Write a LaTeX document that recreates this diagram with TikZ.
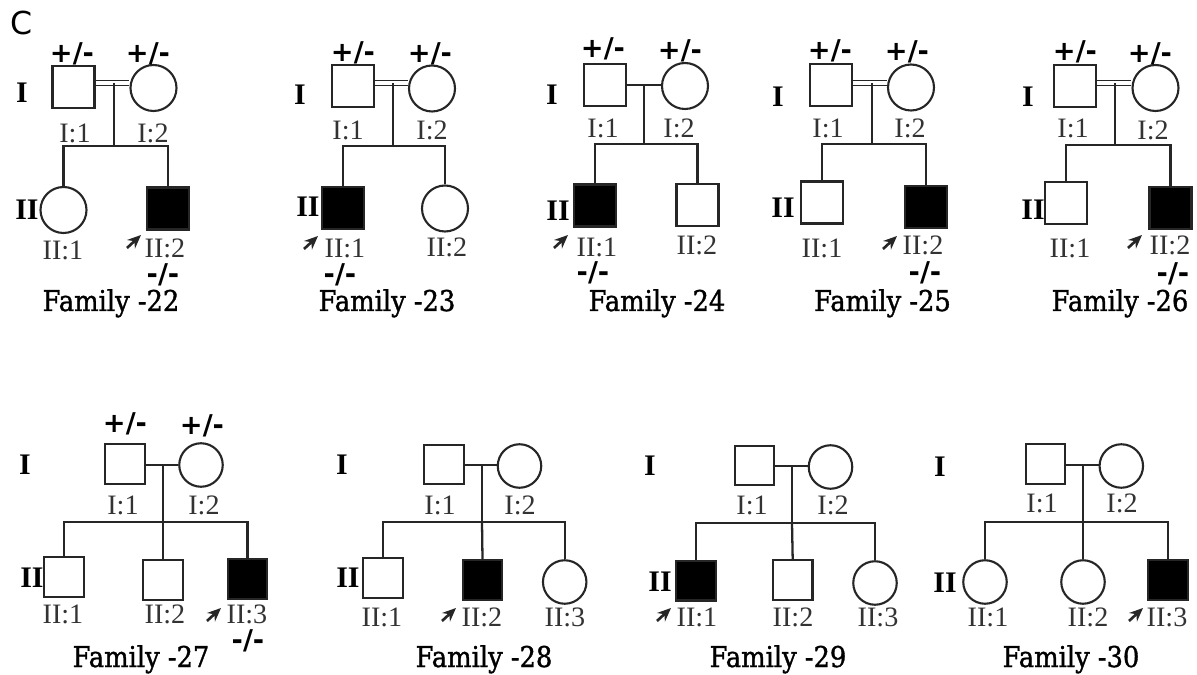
\documentclass[tikz,border=0pt]{standalone}
\usepackage{fontspec}
\setmainfont{Liberation Serif}
\newfontfamily\sansb{DejaVu Sans}
\newfontfamily\famfont{DejaVu Serif}[FakeStretch=0.9,FakeBold=1.2]
\usetikzlibrary{arrows.meta}
\begin{document}
\begin{tikzpicture}[x=0.02cm,y=-0.02cm,
 ln/.style={line width=1.2pt, draw=black!85},
 sqT/.style={ln, rectangle, minimum size=0.84cm, inner sep=0pt, fill=white},
 ciT/.style={ln, circle, minimum size=0.92cm, inner sep=0pt, fill=white},
 sqB/.style={ln, rectangle, minimum size=0.79cm, inner sep=0pt, fill=white},
 ciB/.style={ln, circle, minimum size=0.87cm, inner sep=0pt, fill=white},
 aff/.style={fill=black},
 conn/.style={line width=1.3pt, draw=black!85},
 cons/.style={line width=0.9pt, draw=black!85, double, double distance=0.07cm},
 lbl/.style={font=\fontsize{16}{16}\selectfont, text=black!80, inner sep=0pt},
 gen/.style={font=\fontsize{17}{17}\selectfont\bfseries, inner sep=0pt},
 geno/.style={font=\sansb\fontsize{15.5}{15.5}\selectfont\bfseries, inner sep=0pt},
 fam/.style={font=\famfont\fontsize{16.3}{16.3}\selectfont, anchor=base, inner sep=0pt},
 prob/.style={line width=1.5pt, draw=black!85, -{Stealth[length=0.27cm,width=0.23cm]}},
 panel/.style={font=\sansb\fontsize{18}{18}\selectfont, inner sep=0pt},
]
\useasboundingbox (0,0) rectangle (1197,675);
\node[panel] (C) at (22,23) {C};

% ---------------- Family 22
\node[sqT] (a22) at (73.5,87) {};
\node[ciT] (b22) at (153.5,88) {};
\coordinate (m22) at (114,83);
\coordinate (s22) at (114,146);
\node[ciT] (c22a) at (63.5,210) {};
\node[sqT,aff] (c22b) at (168,208.5) {};
\draw[cons] (a22.east |- m22) -- (b22.west |- m22);
\draw[conn] (m22) -- (s22);
\draw[conn] (c22a.north) |- (s22) -| (c22b.north);
\node[gen] (g22a) at (22,93) {I};
\node[gen] (g22b) at (27,210) {II};
\node[lbl] (l22a) at (75,133) {I:1};
\node[lbl] (l22b) at (153,133) {I:2};
\node[lbl] (l22c) at (63,250) {II:1};
\node[lbl] (l22d) at (165,248) {II:2};
\draw[prob] (127,248) -- ++(14,-13);
\node[geno] (t22a) at (72,54) {+/-};
\node[geno] (t22b) at (148,54) {+/-};
\node[geno] (t22c) at (163,275) {-/-};
\node[fam] (f22) at (111,311) {Family -22};

% ---------------- Family 23
\node[sqT] (a23) at (353,86) {};
\node[ciT] (b23) at (432,88.5) {};
\coordinate (m23) at (393,83);
\coordinate (s23) at (393,146);
\node[sqT,aff] (c23a) at (343,208) {};
\node[ciT] (c23b) at (445,208.5) {};
\draw[cons] (a23.east |- m23) -- (b23.west |- m23);
\draw[conn] (m23) -- (s23);
\draw[conn] (c23a.north) |- (s23) -| (c23b.north);
\node[gen] (g23a) at (300,95) {I};
\node[gen] (g23b) at (308,207) {II};
\node[lbl] (l23a) at (348,130) {I:1};
\node[lbl] (l23b) at (432,130) {I:2};
\node[lbl] (l23c) at (345,248) {II:1};
\node[lbl] (l23d) at (447,247) {II:2};
\draw[prob] (304,249) -- ++(14,-13);
\node[geno] (t23a) at (353,53) {+/-};
\node[geno] (t23b) at (430,54) {+/-};
\node[geno] (t23c) at (340,275) {-/-};
\node[fam] (f23) at (387,311) {Family -23};

% ---------------- Family 24
\node[sqT] (a24) at (605,85) {};
\node[ciT] (b24) at (685,86) {};
\coordinate (m24) at (644,85);
\coordinate (s24) at (644,144);
\node[sqT,aff] (c24a) at (595,205.5) {};
\node[sqT] (c24b) at (697.5,205) {};
\draw[conn] (a24.east |- m24) -- (b24.west |- m24);
\draw[conn] (m24) -- (s24);
\draw[conn] (c24a.north) |- (s24) -| (c24b.north);
\node[gen] (g24a) at (552,95) {I};
\node[gen] (g24b) at (558,211) {II};
\node[lbl] (l24a) at (603,128) {I:1};
\node[lbl] (l24b) at (679,128) {I:2};
\node[lbl] (l24c) at (597,247) {II:1};
\node[lbl] (l24d) at (697,245) {II:2};
\draw[prob] (554,248) -- ++(14,-13);
\node[geno] (t24a) at (603,49) {+/-};
\node[geno] (t24b) at (680,51) {+/-};
\node[geno] (t24c) at (593,273) {-/-};
\node[fam] (f24) at (657,311) {Family -24};

% ---------------- Family 25
\node[sqT] (a25) at (831,85) {};
\node[ciT] (b25) at (911,87.5) {};
\coordinate (m25) at (872,83);
\coordinate (s25) at (872,144);
\node[sqT] (c25a) at (822,202.5) {};
\node[sqT,aff] (c25b) at (926,207) {};
\draw[cons] (a25.east |- m25) -- (b25.west |- m25);
\draw[conn] (m25) -- (s25);
\draw[conn] (c25a.north) |- (s25) -| (c25b.north);
\node[gen] (g25a) at (778,97) {I};
\node[gen] (g25b) at (783,208) {II};
\node[lbl] (l25a) at (828,128) {I:1};
\node[lbl] (l25b) at (910,128) {I:2};
\node[lbl] (l25c) at (822,248) {II:1};
\node[lbl] (l25d) at (923,245) {II:2};
\draw[prob] (883,249) -- ++(14,-13);
\node[geno] (t25a) at (830,51) {+/-};
\node[geno] (t25b) at (907,52) {+/-};
\node[geno] (t25c) at (925,273) {-/-};
\node[fam] (f25) at (882.5,311) {Family -25};

% ---------------- Family 26
\node[sqT] (a26) at (1075,86) {};
\node[ciT] (b26) at (1155.5,88) {};
\coordinate (m26) at (1115,83);
\coordinate (s26) at (1115,145);
\node[sqT] (c26a) at (1066,203) {};
\node[sqT,aff] (c26b) at (1170.5,208) {};
\draw[cons] (a26.east |- m26) -- (b26.west |- m26);
\draw[conn] (m26) -- (s26);
\draw[conn] (c26a.north) |- (s26) -| (c26b.north);
\node[gen] (g26a) at (1028,97) {I};
\node[gen] (g26b) at (1033,210) {II};
\node[lbl] (l26a) at (1073,128) {I:1};
\node[lbl] (l26b) at (1153,130) {I:2};
\node[lbl] (l26c) at (1070,248) {II:1};
\node[lbl] (l26d) at (1170,245) {II:2};
\draw[prob] (1128,248) -- ++(14,-13);
\node[geno] (t26a) at (1075,52) {+/-};
\node[geno] (t26b) at (1150,54) {+/-};
\node[geno] (t26c) at (1173,274) {-/-};
\node[fam] (f26) at (1120,311) {Family -26};

% ---------------- Family 27
\node[sqB] (a27) at (125,464) {};
\node[ciB] (b27) at (201,465) {};
\coordinate (m27) at (163,465);
\coordinate (s27) at (163,522);
\node[sqB] (c27a) at (64,577) {};
\node[sqB] (c27b) at (163,580) {};
\node[sqB,aff] (c27c) at (247.5,579) {};
\draw[conn] (a27.east |- m27) -- (b27.west |- m27);
\draw[conn] (m27) -- (s27);
\draw[conn] (c27a.north) |- (s27) -| (c27c.north);
\draw[conn] (s27) -- (c27b.north);
\node[gen] (g27a) at (25,465) {I};
\node[gen] (g27b) at (32,578) {II};
\node[lbl] (l27a) at (123,505) {I:1};
\node[lbl] (l27b) at (204,505) {I:2};
\node[lbl] (l27c) at (63,614) {II:1};
\node[lbl] (l27d) at (165,614) {II:2};
\node[lbl] (l27e) at (247,614) {II:3};
\draw[prob] (207,621) -- ++(14,-13);
\node[geno] (t27a) at (125,424) {+/-};
\node[geno] (t27b) at (202,426) {+/-};
\node[geno] (t27c) at (248,641) {-/-};
\node[fam] (f27) at (141,667) {Family -27};

% ---------------- Family 28
\node[sqB] (a28) at (444,464.5) {};
\node[ciB] (b28) at (519.5,466) {};
\coordinate (m28) at (482,465);
\coordinate (s28) at (482,522);
\node[sqB] (c28a) at (383,578) {};
\node[sqB,aff] (c28b) at (482.5,580) {};
\node[ciB] (c28c) at (564.7,582) {};
\draw[conn] (a28.east |- m28) -- (b28.west |- m28);
\draw[conn] (m28) -- (s28);
\draw[conn] (c28a.north) |- (s28) -| (c28c.north);
\draw[conn] (s28) -- (c28b.north);
\node[gen] (g28a) at (342,465) {I};
\node[gen] (g28b) at (348,578) {II};
\node[lbl] (l28a) at (440,505) {I:1};
\node[lbl] (l28b) at (520,505) {I:2};
\node[lbl] (l28c) at (382,617) {II:1};
\node[lbl] (l28d) at (482,617) {II:2};
\node[lbl] (l28e) at (565,617) {II:3};
\draw[prob] (442,621) -- ++(14,-13);
\node[fam] (f28) at (484,667) {Family -28};

% ---------------- Family 29
\node[sqB] (a29) at (754.5,465.5) {};
\node[ciB] (b29) at (830.5,467) {};
\coordinate (m29) at (792,466);
\coordinate (s29) at (792,523);
\node[sqB,aff] (c29a) at (696,580.7) {};
\node[sqB] (c29b) at (792.7,580) {};
\node[ciB] (c29c) at (875,583) {};
\draw[conn] (a29.east |- m29) -- (b29.west |- m29);
\draw[conn] (m29) -- (s29);
\draw[conn] (c29a.north) |- (s29) -| (c29c.north);
\draw[conn] (s29) -- (c29b.north);
\node[gen] (g29a) at (650,466) {I};
\node[gen] (g29b) at (660,582) {II};
\node[lbl] (l29a) at (752,505) {I:1};
\node[lbl] (l29b) at (833,505) {I:2};
\node[lbl] (l29c) at (697,617) {II:1};
\node[lbl] (l29d) at (793,617) {II:2};
\node[lbl] (l29e) at (878,617) {II:3};
\draw[prob] (657,621) -- ++(14,-13);
\node[fam] (f29) at (778,667) {Family -29};

% ---------------- Family 30
\node[sqB] (a30) at (1045.5,464) {};
\node[ciB] (b30) at (1121.3,466) {};
\coordinate (m30) at (1083,465);
\coordinate (s30) at (1083,522);
\node[ciB] (c30a) at (985,582) {};
\node[ciB] (c30b) at (1083,582) {};
\node[sqB,aff] (c30c) at (1168,580) {};
\draw[conn] (a30.east |- m30) -- (b30.west |- m30);
\draw[conn] (m30) -- (s30);
\draw[conn] (c30a.north) |- (s30) -| (c30c.north);
\draw[conn] (s30) -- (c30b.north);
\node[gen] (g30a) at (940,467) {I};
\node[gen] (g30b) at (945,583) {II};
\node[lbl] (l30a) at (1042,503) {I:1};
\node[lbl] (l30b) at (1122,503) {I:2};
\node[lbl] (l30c) at (988,617) {II:1};
\node[lbl] (l30d) at (1088,617) {II:2};
\node[lbl] (l30e) at (1167,617) {II:3};
\draw[prob] (1129,621) -- ++(14,-13);
\node[fam] (f30) at (1071,667) {Family -30};
\end{tikzpicture}
\end{document}
